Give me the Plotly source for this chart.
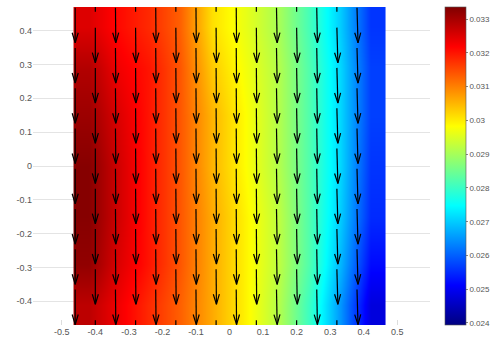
import plotly.graph_objects as go

# Scalar field sampled on a coarse grid (cell centres), values per row bottom -> top
field_x = [-0.42, -0.33, -0.24, -0.15, -0.05, 0.05, 0.15, 0.24, 0.33, 0.42]
field_y = [-0.41, -0.29, -0.15, 0.0, 0.15, 0.29, 0.41]
field_rows = [
    [0.0328, 0.0323, 0.0318, 0.0313, 0.0306, 0.0299, 0.0291, 0.0280, 0.0265, 0.0248],
    [0.0332, 0.0325, 0.0320, 0.0314, 0.0306, 0.0299, 0.0292, 0.0282, 0.0268, 0.0252],
    [0.0333, 0.0326, 0.0320, 0.0314, 0.0306, 0.0299, 0.0292, 0.0282, 0.0270, 0.0255],
    [0.0333, 0.0326, 0.0320, 0.0314, 0.0305, 0.0298, 0.0291, 0.0282, 0.0271, 0.0256],
    [0.0331, 0.0325, 0.0320, 0.0314, 0.0305, 0.0298, 0.0291, 0.0282, 0.0271, 0.0257],
    [0.0329, 0.0323, 0.0320, 0.0314, 0.0303, 0.0297, 0.0291, 0.0282, 0.0271, 0.0257],
    [0.0325, 0.0321, 0.0318, 0.0313, 0.0301, 0.0296, 0.0290, 0.0281, 0.0270, 0.0256],
]
color_min = 0.02394
color_max = 0.03336
colorbar_ticks = [0.024, 0.025, 0.026, 0.027, 0.028, 0.029, 0.030, 0.031, 0.032, 0.033]
colorbar_labels = ["0.024", "0.025", "0.026", "0.027", "0.028", "0.029", "0.03", "0.031", "0.032", "0.033"]

# Vector field: staggered grid of arrow tails, components per column
arrow_x = [-0.46, -0.40, -0.34, -0.28, -0.22, -0.16, -0.10, -0.04,
           0.02, 0.08, 0.14, 0.20, 0.26, 0.32, 0.38]
arrow_y = [0.468, 0.409, 0.349, 0.290, 0.230, 0.171, 0.111, 0.052,
           -0.008, -0.067, -0.127, -0.186, -0.246, -0.305, -0.365]
arrow_u = [0.000, 0.000, 0.001, 0.001, 0.001, 0.001, 0.001, 0.001,
           0.001, 0.001, 0.002, 0.002, 0.002, 0.003, 0.003]
arrow_v = [-0.104] * 15
# short marks on the walls for the odd columns
wall_y = [0.47, -0.47]
wall_len = 0.014

x_ticks = [-0.5, -0.4, -0.3, -0.2, -0.1, 0, 0.1, 0.2, 0.3, 0.4, 0.5]
x_labels = ["-0.5", "-0.4", "-0.3", "-0.2", "-0.1", "0", "0.1", "0.2", "0.3", "0.4", "0.5"]
y_ticks = [-0.4, -0.3, -0.2, -0.1, 0, 0.1, 0.2, 0.3, 0.4]
y_labels = ["-0.4", "-0.3", "-0.2", "-0.1", "0", "0.1", "0.2", "0.3", "0.4"]

jet = [
    [0.0, "rgb(0,0,128)"],
    [0.125, "rgb(0,0,255)"],
    [0.375, "rgb(0,255,255)"],
    [0.625, "rgb(255,255,0)"],
    [0.875, "rgb(255,0,0)"],
    [1.0, "rgb(128,0,0)"],
]

HEAD_LEN = 0.03
HEAD_HALF = 0.009

xs, ys = [], []
for k, x0 in enumerate(arrow_x):
    u = arrow_u[k]
    v = arrow_v[k]
    for j, y0 in enumerate(arrow_y):
        if (j + k) % 2:
            continue
        x1, y1 = x0 + u, y0 + v
        n = (u * u + v * v) ** 0.5
        dx, dy = u / n, v / n
        px, py = -dy, dx
        bx, by = x1 - dx * HEAD_LEN, y1 - dy * HEAD_LEN
        xs += [x0, x1, None,
               bx + px * HEAD_HALF, x1, bx - px * HEAD_HALF, None]
        ys += [y0, y1, None,
               by + py * HEAD_HALF, y1, by - py * HEAD_HALF, None]
    if k % 2:
        xs += [x0, x0, None, x0, x0, None]
        ys += [wall_y[0], wall_y[0] - wall_len, None,
               wall_y[1] + wall_len, wall_y[1], None]

fig = go.Figure()
fig.add_trace(go.Heatmap(
    x=field_x, y=field_y, z=field_rows,
    zsmooth="best", colorscale=jet, zmin=color_min, zmax=color_max,
    hoverinfo="skip",
    colorbar=dict(
        x=1.0375, xanchor="left", xpad=0,
        y=0.5, yanchor="middle", ypad=0,
        len=1, lenmode="fraction", thickness=21,
        outlinewidth=0.6, outlinecolor="#555",
        tickvals=colorbar_ticks, ticktext=colorbar_labels,
        ticks="outside", ticklen=2, tickcolor="#888",
        tickfont=dict(size=8, color="#555", family="Liberation Sans"),
    ),
))
fig.add_trace(go.Scatter(
    x=xs, y=ys, mode="lines",
    line=dict(color="black", width=1.2),
    hoverinfo="skip", showlegend=False,
))

fig.update_layout(
    width=498, height=347, autosize=False,
    margin=dict(l=33, r=65, t=7, b=22),
    paper_bgcolor="white", plot_bgcolor="white",
    font=dict(family="Liberation Sans", size=9, color="#555"),
    showlegend=False,
)
fig.update_xaxes(
    range=[-0.5858, 0.5976], tickvals=x_ticks, ticktext=x_labels,
    showgrid=False, zeroline=False, showline=False,
    ticks="inside", ticklen=5, tickcolor="#ddd",
    layer="below traces",
)
fig.update_yaxes(
    range=[-0.47, 0.47], tickvals=y_ticks, ticktext=y_labels,
    showgrid=True, gridcolor="#e4e4e4", gridwidth=1,
    zeroline=False, showline=False, ticks="",
    layer="below traces",
)

fig.write_html("out.html")
